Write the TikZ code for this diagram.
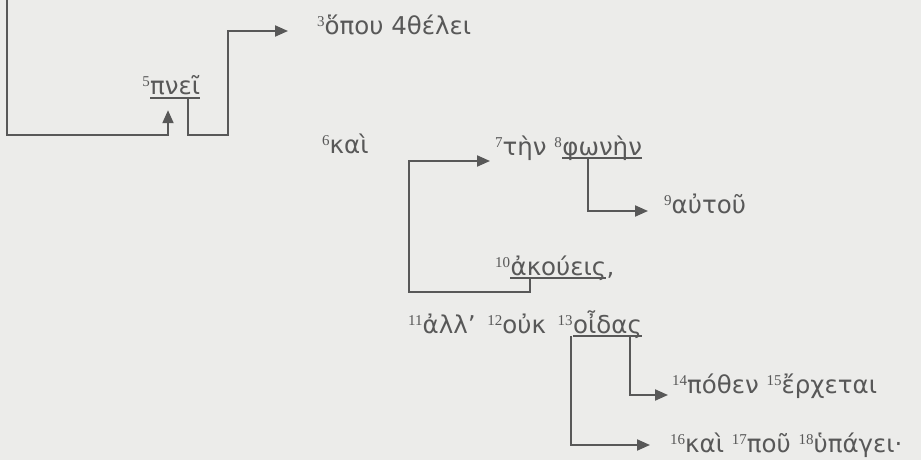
\documentclass[tikz,border=0pt]{standalone}
\usepackage{fontspec}
\usepackage{xcolor}
\usepackage{tikz}
\usetikzlibrary{positioning, arrows.meta}
\setmainfont{DejaVu Sans}
\newfontfamily\numfont{Liberation Serif}
\definecolor{paper}{RGB}{236,236,234}
\definecolor{ink}{RGB}{88,88,88}
\newcommand{\vn}[1]{\raisebox{8pt}{\fontsize{15}{15}\selectfont\numfont #1}}

\begin{document}
\begin{tikzpicture}[
    x=1pt, y=-1pt,
    word/.style={inner sep=0pt, anchor=base west, text=ink,
                 font=\fontsize{24.5}{28}\selectfont},
    head/.style={word, inner ysep=3pt, text depth=0pt},
    uline/.style={draw=ink, line width=1.8pt},
    arr/.style={-{Triangle[length=13pt, width=11pt]}, draw=ink, line width=2pt}
]
    \fill[paper] (0,0) rectangle (921,460);
    \useasboundingbox (0,0) rectangle (921,460);

    \node[word] (n3) at (317,35) {\vn{3}ὅπου 4θέλει};
    \node[head] (pnei) at (150,95) {πνεῖ};
    \node[word, anchor=base east] (v5) at (pnei.base west) {\vn{5}};
    \node[word] (kai) at (322,153) {\vn{6}καὶ};
    \node[word] (ten) at (495,155) {\vn{7}τὴν \vn{8}};
    \node[head] (phonen) at (ten.base east) {φωνὴν};
    \node[word] (autou) at (664,213) {\vn{9}αὐτοῦ};
    \node[word] (v10) at (495,275) {\vn{10}};
    \node[head] (akoueis) at (v10.base east) {ἀκούεις};
    \node[word] (comma) at (akoueis.base east) {,};
    \node[word] (alla) at (408,333) {\vn{11}ἀλλ’\hspace{0.48em}\vn{12}οὐκ\hspace{0.48em}\vn{13}};
    \node[head] (oidas) at (alla.base east) {οἶδας};
    \node[word] (pothen) at (672,393) {\vn{14}πόθεν \vn{15}ἔρχεται};
    \node[word] (pou) at (670,452) {\vn{16}καὶ \vn{17}ποῦ \vn{18}ὑπάγει·};

    \foreach \w in {pnei, phonen, akoueis, oidas}
        \draw[uline] (\w.south west) -- (\w.south east);

    \coordinate (from) at (7,0);
    \draw[arr, shorten >=12pt] (from) -- ++(0,135) -| ([xshift=18pt]pnei.south west);
    \draw[arr] ([xshift=38pt]pnei.south west) -- ++(0,37) -- ++(40,0)
        |- ([xshift=-29pt, yshift=4pt]n3.base west);
    \draw[arr] ([xshift=20pt]akoueis.south west) -- ++(0,14) -- ++(-121,0)
        |- ([xshift=-5pt, yshift=-6pt]ten.base west);
    \draw[arr] ([xshift=26pt]phonen.south west) |- ([xshift=-16pt, yshift=2pt]autou.base west);
    \draw[arr] ([xshift=-12pt]oidas.south east) |- ([xshift=-4pt, yshift=-2pt]pothen.base west);
    \draw[arr] ([xshift=-2pt]oidas.south west) |- ([xshift=-20pt, yshift=7pt]pou.base west);
\end{tikzpicture}
\end{document}
